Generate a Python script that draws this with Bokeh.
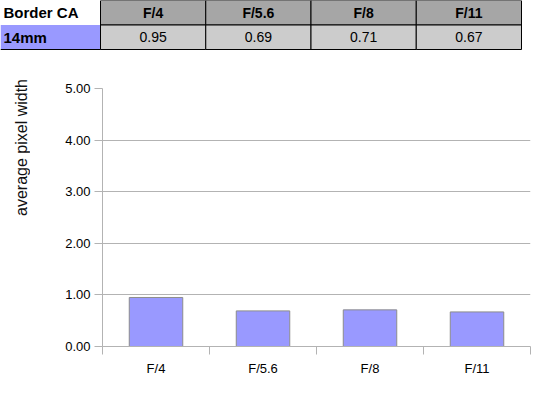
from bokeh.plotting import figure
from bokeh.layouts import column, row
from bokeh.models import Range1d, FixedTicker, ColumnDataSource
from bokeh.core.properties import value
from bokeh.embed import file_html
from bokeh.resources import INLINE

# ---- data ----
table_title = "Border CA"
row_label = "14mm"
apertures = ["F/4", "F/5.6", "F/8", "F/11"]
values = [0.95, 0.69, 0.71, 0.67]
y_ticks = [0, 1, 2, 3, 4, 5]
y_label = "average pixel width"

FONT = "Liberation Sans"
GRID = "#b3b3b3"

# ---- table figure (pixel-like coordinates) ----
TW, TH = 535, 50
LABW = 100.0     # width of the label column
COLW = 105.25    # width of each value column
ROWH = 24.5
t = figure(width=TW, height=TH, toolbar_location=None, output_backend="svg",
           x_range=Range1d(0, TW), y_range=Range1d(2 * ROWH - TH, 2 * ROWH),
           min_border=0, outline_line_color=None, frame_align=False)
t.axis.visible = False
t.grid.visible = False

n = len(apertures)
xc = [LABW + COLW * (i + 0.5) for i in range(n)]
yh, yv = 1.5 * ROWH, 0.5 * ROWH
t.rect(x=xc, y=[yh] * n, width=COLW, height=ROWH, fill_color="#a6a6a6", line_color="black", line_width=1)
t.rect(x=xc, y=[yv] * n, width=COLW, height=ROWH, fill_color="#cccccc", line_color="black", line_width=1)
t.rect(x=[LABW / 2], y=[yv], width=LABW, height=ROWH, fill_color="#9999ff", line_color=None)
t.segment(x0=[0, LABW], y0=[0, 0], x1=[LABW, LABW], y1=[0, ROWH], line_color="black", line_width=1)

t.text(x=[3], y=[yh], text=[table_title], text_font=value(FONT), text_font_size="15px",
       text_font_style="bold", text_align="left", text_baseline="middle", text_color="black")
t.text(x=[3], y=[yv], text=[row_label], text_font=value(FONT), text_font_size="15px",
       text_font_style="bold", text_align="left", text_baseline="middle", text_color="black")
t.text(x=xc, y=[yh] * n, text=apertures, text_font=value(FONT), text_font_size="14px",
       text_font_style="bold", text_align="center", text_baseline="middle", text_color="black")
t.text(x=xc, y=[yv] * n, text=["%.2f" % v for v in values], text_font=value(FONT), text_font_size="14px",
       text_align="center", text_baseline="middle", text_color="black")

# ---- y label figure ----
CH = 331
LW = 30
lf = figure(width=LW, height=CH, toolbar_location=None, output_backend="svg",
            x_range=Range1d(0, LW), y_range=Range1d(0, CH),
            min_border=0, outline_line_color=None, frame_align=False)
lf.axis.visible = False
lf.grid.visible = False
lf.text(x=[21], y=[CH - 97], text=[y_label], angle=90, angle_units="deg",
        text_font=value(FONT), text_font_size="16px", text_align="center", text_baseline="middle",
        text_color="#111111")

# ---- chart figure ----
CW = 535 - LW
p = figure(width=CW, height=CH, toolbar_location=None, output_backend="svg",
           x_range=Range1d(0, n), y_range=Range1d(0, 5),
           min_border_left=102 - LW, min_border_right=5, min_border_top=38, min_border_bottom=35,
           outline_line_color=None, frame_align=False)

src = ColumnDataSource(dict(x=[i + 0.5 for i in range(n)], top=values))
p.vbar(x="x", top="top", width=0.5, bottom=0, source=src,
       fill_color="#9999ff", line_color="#8c8c8c", line_width=1)

# y axis
p.yaxis.ticker = FixedTicker(ticks=y_ticks)
p.yaxis.major_label_overrides = {v: "%.2f" % v for v in y_ticks}
p.yaxis.major_label_text_font = FONT
p.yaxis.major_label_text_font_size = "13px"
p.yaxis.major_label_text_color = "black"
p.yaxis.major_tick_in = 0
p.yaxis.major_tick_out = 8
p.yaxis.major_tick_line_color = GRID
p.yaxis.minor_tick_line_color = None
p.yaxis.axis_line_color = GRID
p.yaxis.major_label_standoff = 4

# x axis: labels at centers, ticks at boundaries (minor)
p.xaxis.ticker = FixedTicker(ticks=[i + 0.5 for i in range(n)], minor_ticks=list(range(n + 1)))
p.xaxis.major_label_overrides = {i + 0.5: a for i, a in enumerate(apertures)}
p.xaxis.major_label_text_font = FONT
p.xaxis.major_label_text_font_size = "13px"
p.xaxis.major_label_text_color = "black"
p.xaxis.major_tick_line_color = None
p.xaxis.minor_tick_in = 0
p.xaxis.minor_tick_out = 8
p.xaxis.minor_tick_line_color = GRID
p.xaxis.axis_line_color = GRID
p.xaxis.major_label_standoff = 6

p.xgrid.visible = False
p.ygrid.ticker = FixedTicker(ticks=y_ticks)
p.ygrid.grid_line_color = GRID

layout = column(t, row(lf, p, spacing=0), spacing=0)
open("out.html", "w").write(file_html(layout, INLINE))
